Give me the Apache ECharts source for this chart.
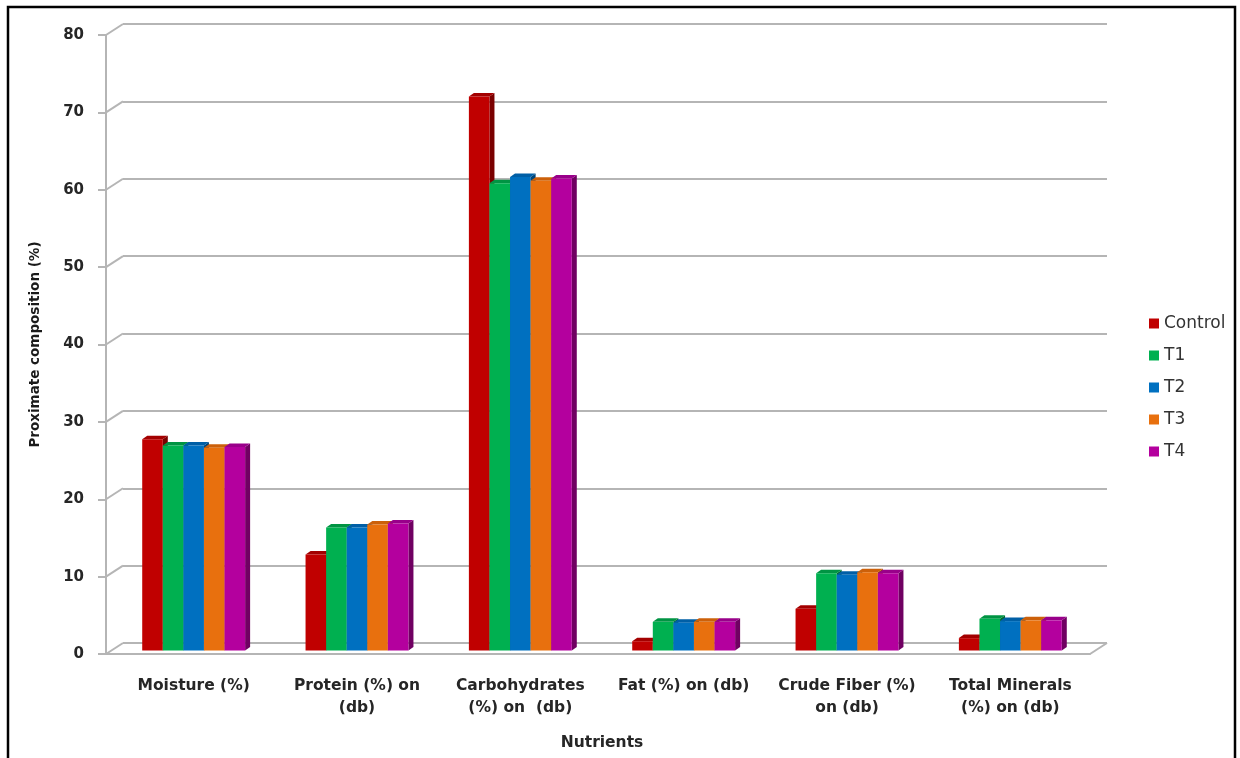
<!DOCTYPE html>
<html>
<head>
<meta charset="utf-8">
<script src="https://cdn.jsdelivr.net/npm/echarts@6/dist/echarts.min.js"></script>
<style>
  html, body { margin: 0; padding: 0; background: #fff; }
  #chart { width: 1240px; height: 758px; }
</style>
</head>
<body>
<div id="chart"></div>
<script>
const categories = [
  'Moisture (%)',
  'Protein (%) on\n(db)',
  'Carbohydrates\n(%) on  (db)',
  'Fat (%) on (db)',
  'Crude Fiber (%)\non (db)',
  'Total Minerals\n(%) on (db)'
];
const seriesNames = ['Control', 'T1', 'T2', 'T3', 'T4'];
const control = [27.3, 12.4, 71.6, 1.2, 5.4, 1.6];
const t1 = [26.5, 15.9, 60.4, 3.7, 10.0, 4.1];
const t2 = [26.5, 15.9, 61.2, 3.6, 9.8, 3.8];
const t3 = [26.2, 16.3, 60.7, 3.7, 10.1, 3.9];
const t4 = [26.3, 16.4, 61.0, 3.7, 10.0, 3.9];
const yTicks = [0, 10, 20, 30, 40, 50, 60, 70, 80];
const seriesValues = [control, t1, t2, t3, t4];

const colors = ['#C00000', '#00B050', '#0070C0', '#E8700E', '#B4009E'];
const sideColors = ['#7A0000', '#006B30', '#004578', '#9A4706', '#700062'];
const topColors = ['#A30000', '#009443', '#005FA6', '#CC600A', '#99008A'];

const DX = 5, DY = -3.5;       // bar depth projection
const WALL_DX = 17, WALL_DY = -11; // wall depth projection
const BAR_FRAC = 0.126;

function makeBarSeries(idx) {
  return {
    name: seriesNames[idx],
    type: 'custom',
    xAxisIndex: 2,
    yAxisIndex: 2,
    itemStyle: { color: colors[idx] },
    encode: { x: 0, y: 1 },
    data: seriesValues[idx].map((v, i) => [i, v]),
    renderItem: function (params, api) {
      const cat = api.value(0);
      const val = api.value(1);
      const base = api.coord([cat, 0]);
      const top = api.coord([cat, val]);
      const band = api.size([1, 0])[0];
      const w = band * BAR_FRAC;
      const x0 = base[0] - (w * 5) / 2 + idx * w;
      const x1 = x0 + w;
      const yt = top[1], yb = base[1];
      return {
        type: 'group',
        children: [
          {
            type: 'polygon',
            shape: { points: [[x1, yt], [x1 + DX, yt + DY], [x1 + DX, yb + DY], [x1, yb]] },
            style: { fill: sideColors[idx] }
          },
          {
            type: 'polygon',
            shape: { points: [[x0, yt], [x0 + DX, yt + DY], [x1 + DX, yt + DY], [x1, yt]] },
            style: { fill: topColors[idx] }
          },
          {
            type: 'rect',
            shape: { x: x0, y: yt, width: w, height: yb - yt },
            style: { fill: colors[idx] }
          }
        ]
      };
    }
  };
}

const wallLinks = yTicks.map(v => [0, v]).concat([[1, 0]]);

const option = {
  backgroundColor: '#ffffff',
  animation: false,
  graphic: [{
    type: 'rect',
    shape: { x: 8, y: 7, width: 1227, height: 800 },
    style: { fill: 'none', stroke: '#000', lineWidth: 2.5 },
    z: 100
  }],
  legend: {
    data: seriesNames,
    orient: 'vertical',
    left: 1144,
    top: 310,
    itemWidth: 10,
    itemHeight: 10,
    itemGap: 15,
    icon: 'rect',
    textStyle: { fontFamily: 'DejaVu Sans', fontSize: 17, color: '#333' }
  },
  grid: [
    { left: 123, right: 133, top: 24, bottom: 115 },
    { left: 106, right: 150, top: 35, bottom: 104 },
    { left: 112, right: 148, top: 31.5, bottom: 107.5 }
  ],
  xAxis: [
    { gridIndex: 0, type: 'value', min: 0, max: 1, show: false },
    {
      gridIndex: 1, type: 'value', min: 0, max: 1,
      axisLine: { show: true, lineStyle: { color: '#b5b5b5', width: 2 } },
      axisTick: { show: false }, axisLabel: { show: false }, splitLine: { show: false }
    },
    {
      gridIndex: 2, type: 'category', data: categories,
      axisLine: { show: false }, axisTick: { show: false },
      axisLabel: {
        fontFamily: 'DejaVu Sans', fontWeight: 'bold', fontSize: 15.5,
        color: '#262626', lineHeight: 22, margin: 24, interval: 0
      },
      name: 'Nutrients',
      nameLocation: 'middle',
      nameGap: 84,
      nameTextStyle: { fontFamily: 'DejaVu Sans', fontWeight: 'bold', fontSize: 15.5, color: '#262626' }
    }
  ],
  yAxis: [
    {
      gridIndex: 0, type: 'value', min: 0, max: 80, interval: 10,
      axisLine: { show: false }, axisTick: { show: false }, axisLabel: { show: false },
      splitLine: { show: true, lineStyle: { color: '#b5b5b5', width: 2 } }
    },
    {
      gridIndex: 1, type: 'value', min: 0, max: 80, interval: 10,
      axisLine: { show: true, lineStyle: { color: '#b5b5b5', width: 2 } },
      axisTick: { show: true, length: 8, lineStyle: { color: '#b5b5b5', width: 2 } },
      axisLabel: {
        fontFamily: 'DejaVu Sans', fontWeight: 'bold', fontSize: 15,
        color: '#262626', margin: 22,
        formatter: v => String(v)
      },
      splitLine: { show: false },
      name: 'Proximate composition (%)',
      nameLocation: 'middle',
      nameGap: 64,
      nameTextStyle: { fontFamily: 'DejaVu Sans', fontWeight: 'bold', fontSize: 13.5, color: '#1a1a1a' }
    },
    { gridIndex: 2, type: 'value', min: 0, max: 80, show: false }
  ],
  series: [
    {
      type: 'custom',
      name: 'walls',
      xAxisIndex: 1,
      yAxisIndex: 1,
      silent: true,
      encode: { x: 0, y: 1 },
      data: wallLinks,
      renderItem: function (params, api) {
        const p = api.coord([api.value(0), api.value(1)]);
        return {
          type: 'line',
          shape: { x1: p[0], y1: p[1], x2: p[0] + WALL_DX, y2: p[1] + WALL_DY },
          style: { stroke: '#b5b5b5', lineWidth: 2 }
        };
      }
    }
  ].concat(seriesNames.map((n, i) => makeBarSeries(i)))
};

const chart = echarts.init(document.getElementById('chart'), null, { renderer: 'canvas' });
chart.setOption(option);
</script>
</body>
</html>
